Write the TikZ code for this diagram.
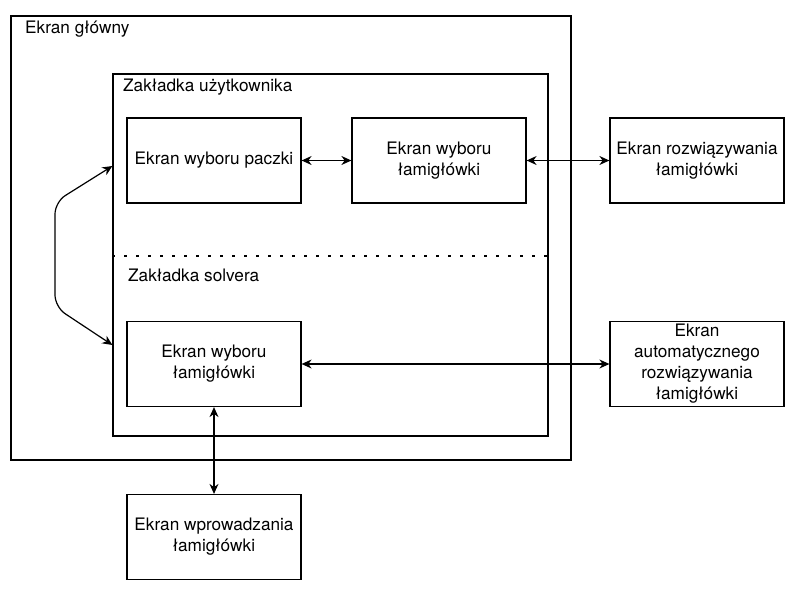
\documentclass[tikz,border=0pt]{standalone}
\usepackage{fontspec}
\setmainfont{TeX Gyre Heros}
\usetikzlibrary{arrows.meta}
\tikzset{
  screen/.style={draw, line width=1.2pt, minimum width=174pt, minimum height=85pt, align=center, inner sep=2pt},
  frame/.style={draw, line width=1.2pt, inner sep=0pt},
  caption/.style={anchor=west, inner sep=0pt},
  link/.style={line width=1.2pt, {Stealth[length=10pt,width=9pt]}-{Stealth[length=10pt,width=9pt]}}
}
\begin{document}
\begin{tikzpicture}[x=1pt, y=-1pt, font=\fontsize{17.2}{21}\selectfont]
      \useasboundingbox (0,0) rectangle (803,603);
      \draw
        (291,238) node[frame, minimum width=560pt, minimum height=444pt] (main){}
        (330.5,255) node[frame, minimum width=435pt, minimum height=362pt] (usr){}
        (25,29) node[caption] (mainlbl){Ekran główny}
        (123,87) node[caption] (usrlbl){Zakładka użytkownika}
        (128,275) node[caption] (slvlbl){Zakładka solvera}
        (214,160.5) node[screen] (pack){Ekran wyboru paczki}
        (439,160.5) node[screen] (pick){Ekran wyboru\\łamigłówki}
        (697,160.5) node[screen] (solve){Ekran rozwiązywania\\łamigłówki}
        (214,364) node[screen] (spick){Ekran wyboru\\łamigłówki}
        (697,364) node[screen] (auto){Ekran\\automatycznego\\rozwiązywania\\łamigłówki}
        (214,537) node[screen] (enter){Ekran wprowadzania\\łamigłówki};
      \coordinate (dotl) at (usr.west |- 0,256);
      \coordinate (dotr) at (usr.east |- 0,256);
      \coordinate (ctop) at (usr.west |- 0,166);
      \coordinate (cbot) at (usr.west |- 0,345);
      \draw[line width=2.5pt, dash pattern=on 2.5pt off 9.5pt] (dotl) -- (dotr);
      \begin{scope}[link]
        \draw (pack) to (pick);
        \draw (pick) to (solve);
        \draw (spick) to (auto);
        \draw (spick) to (enter);
        \draw[rounded corners=12pt] (ctop) -- (55,202) -- (55,307) -- (cbot);
      \end{scope}
    \end{tikzpicture}
\end{document}
